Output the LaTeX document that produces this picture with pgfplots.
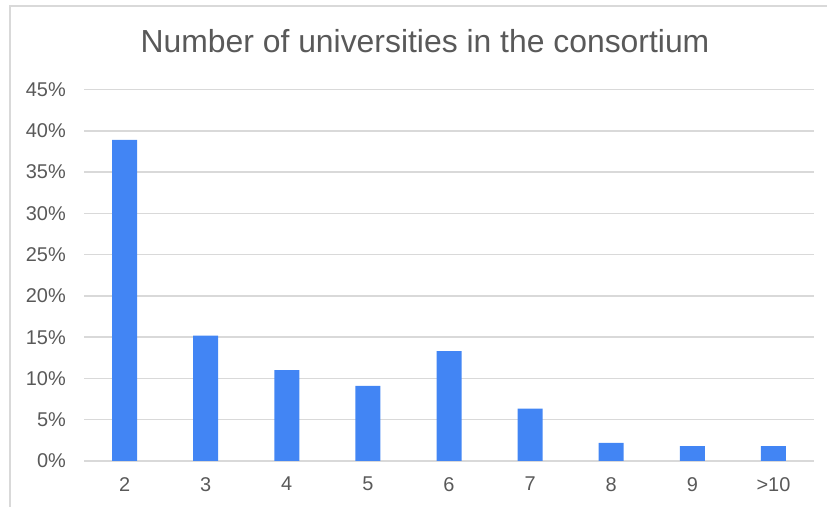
\documentclass[border=0pt]{standalone}
\usepackage{fontspec}
\setmainfont{Liberation Sans}
\usepackage{pgfplots}
\pgfplotsset{compat=1.18}
\definecolor{barblue}{HTML}{4285F4}
\definecolor{gridgray}{HTML}{D9D9D9}
\definecolor{textgray}{HTML}{595959}
\begin{document}
\begin{tikzpicture}[x=1bp,y=1bp]
\useasboundingbox (0,0) rectangle (827,507);
\draw[gridgray, line width=1.5bp] (10,0) -- (10,501) -- (827,501);
\node[anchor=base, text=textgray, inner sep=0, font=\fontsize{32}{38}\selectfont] at (425,454) {Number of universities in the consortium};
\begin{axis}[
    at={(84bp,46bp)}, anchor=south west,
    scale only axis,
    width=730bp, height=371.4bp,
    ybar, bar width=25bp,
    xmin=-0.5, xmax=8.5,
    ymin=0, ymax=45,
    ytick={0,5,...,45},
    xtick={0,...,8},
    xticklabels={2,3,4,5,6,7,8,9,>10},
    yticklabel={\pgfmathprintnumber{\tick}\%},
    /pgf/number format/assume math mode=true,
    ymajorgrids,
    grid style={gridgray, line width=1.5bp},
    axis line style={draw=none},
    major tick length=0,
    tick label style={text=textgray, font=\fontsize{20}{24}\selectfont, inner sep=0},
    yticklabel style={xshift=-18bp},
    xticklabel style={yshift=-16bp},
]
\addplot[fill=barblue, draw=none] coordinates {
    (0,38.9) (1,15.2) (2,11.0) (3,9.1) (4,13.3)
    (5,6.35) (6,2.2) (7,1.8) (8,1.8)
};
\end{axis}
\end{tikzpicture}
\end{document}
